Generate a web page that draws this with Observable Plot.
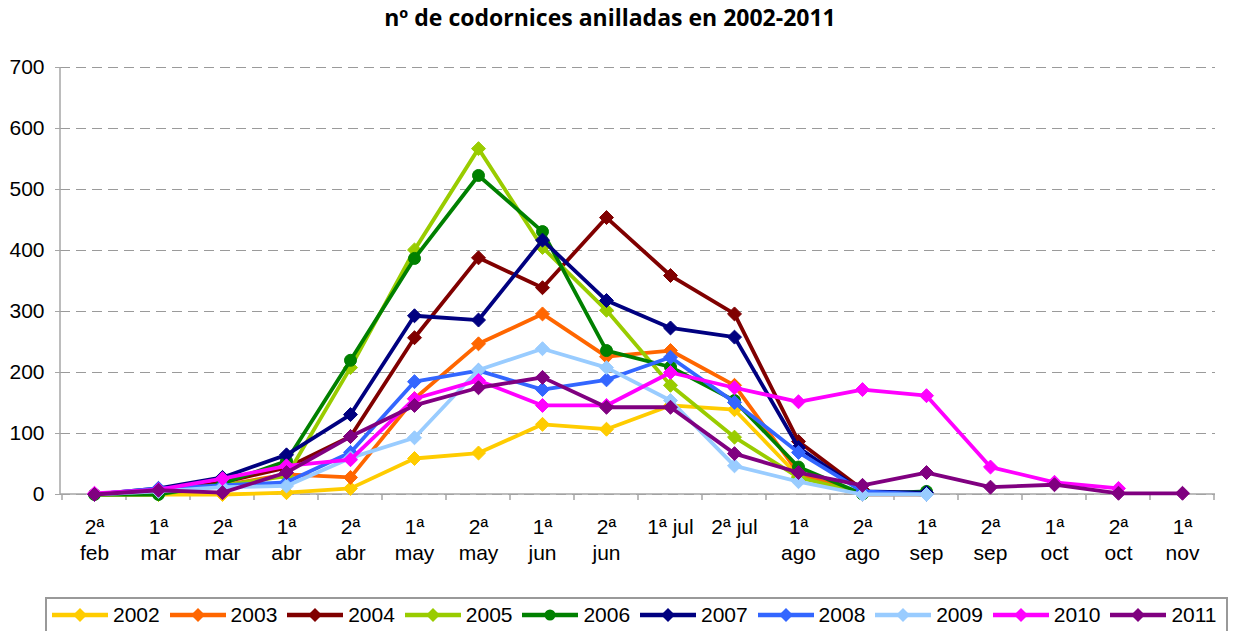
<!DOCTYPE html>
<html><head><meta charset="utf-8">
<script src="https://cdn.jsdelivr.net/npm/d3@7"></script>
<script src="https://cdn.jsdelivr.net/npm/@observablehq/plot@0.6"></script>
<style>
body{margin:0;background:#fff;width:1233px;height:631px;overflow:hidden;position:relative;}
#title{position:absolute;left:0;top:0;width:1220px;height:40px;line-height:35px;text-align:center;font-family:"Open Sans","DejaVu Sans",sans-serif;font-weight:bold;font-size:23px;color:#000;}
#chart{position:absolute;left:0;top:40px;}
#legend{position:absolute;left:45px;top:597px;width:1183px;height:36px;border:2px solid #999;box-sizing:border-box;font-family:"Liberation Sans",sans-serif;font-size:21px;color:#000;}
.item{position:absolute;top:0;height:32px;display:flex;align-items:center;}
.item span{margin-left:5px;}
</style></head>
<body>
<div id="title">nº de codornices anilladas en 2002-2011</div>
<div id="chart"></div>
<div id="legend"></div>
<script>
const categories = ["2ª\nfeb","1ª\nmar","2ª\nmar","1ª\nabr","2ª\nabr","1ª\nmay","2ª\nmay","1ª\njun","2ª\njun","1ª jul","2ª jul","1ª\nago","2ª\nago","1ª\nsep","2ª\nsep","1ª\noct","2ª\noct","1ª\nnov"];
const years = ["2002","2003","2004","2005","2006","2007","2008","2009","2010","2011"];
const colors = ["#FFCC00","#FF6600","#800000","#99CC00","#008000","#000080","#3366FF","#99CCFF","#FF00FF","#800080"];
const symbols = ["diamond2","diamond2","diamond2","diamond2","circle","diamond2","diamond2","diamond2","diamond2","diamond2"];
const yTicks = [0,100,200,300,400,500,600,700];

const s2002 = [0,0,0,3,10,59,68,115,107,146,139,30,0];
const s2003 = [0,5,15,33,28,157,247,296,226,236,179,35,0,0];
const s2004 = [0,5,20,44,95,257,388,339,454,359,296,87,8];
const s2005 = [0,0,15,30,208,401,567,405,302,179,94,28,2];
const s2006 = [0,0,18,55,220,387,523,431,236,209,154,45,1,5];
const s2007 = [0,10,28,65,131,293,286,417,318,273,258,77,5,3];
const s2008 = [0,10,15,20,69,185,203,172,188,225,151,69,5,0];
const s2009 = [0,5,12,14,60,93,204,239,208,154,47,21,0,0];
const s2010 = [2,8,26,47,57,157,187,146,146,200,175,152,172,162,45,20,10];
const s2011 = [0,7,3,36,95,146,175,192,143,143,67,36,15,36,12,16,2,2];
const series = [s2002,s2003,s2004,s2005,s2006,s2007,s2008,s2009,s2010,s2011];

const rowsByYear = years.map((yr,i)=>series[i].map((v,j)=>({year:yr, cat:categories[j], value:v})));

const font = '"Liberation Sans",sans-serif';

function axesFrame(index, scales, values, dims) {
  const {width, height, marginLeft, marginRight, marginTop, marginBottom} = dims;
  const g = d3.create("svg:g").attr("stroke","#a6a6a6").attr("stroke-width",1.5);
  const yb = height - marginBottom;
  g.append("line").attr("x1",marginLeft).attr("x2",marginLeft).attr("y1",marginTop).attr("y2",yb);
  g.append("line").attr("x1",marginLeft).attr("x2",width-marginRight).attr("y1",yb).attr("y2",yb);
  const step = scales.x(categories[1]) - scales.x(categories[0]);
  const bounds = categories.map(c=>scales.x(c)-step/2).concat([scales.x(categories[categories.length-1])+step/2]);
  for (const b of bounds) g.append("line").attr("x1",b).attr("x2",b).attr("y1",yb).attr("y2",yb+6);
  return g.node();
}

const marks = [
  Plot.gridY(yTicks, {stroke:"#9a9a9a", strokeOpacity:1, strokeDasharray:"10,6", strokeWidth:1.2}),
  Plot.axisY(yTicks, {tickSize:5, tickPadding:11, stroke:"#a6a6a6", fill:"#000", label:null}),
  Plot.axisX({tickSize:0, tickPadding:22, lineHeight:1.2, fill:"#000", label:null}),
  axesFrame
];
years.forEach((yr,i)=>{
  marks.push(Plot.line(rowsByYear[i], {x:"cat", y:"value", stroke:colors[i], strokeWidth:3.8}));
  marks.push(Plot.dot(rowsByYear[i], {x:"cat", y:"value", fill:colors[i], stroke:colors[i], symbol:()=>symbols[i], r: symbols[i]==="circle"?6:6.3, strokeWidth:1}));
});

const chart = Plot.plot({
  width:1233, height:550,
  marginTop:27, marginBottom:96, marginLeft:60, marginRight:18,
  style:{fontFamily:font, fontSize:"21px", color:"#000", background:"#fff", overflow:"visible"},
  x:{type:"point", domain:categories, padding:0.5, label:null},
  y:{domain:[0,700], label:null},
  symbol:{type:"identity"},
  marks
});
document.getElementById("chart").appendChild(chart);

const legend = document.getElementById("legend");
years.forEach((yr,i)=>{
  const d = document.createElement("div");
  d.className="item";
  d.style.left = (5 + i*117.6) + "px";
  const mk = symbols[i]==="circle"
    ? `<circle cx="28" cy="10" r="5.5" fill="${colors[i]}"/>`
    : `<polygon points="28,3 35,10 28,17 21,10" fill="${colors[i]}"/>`;
  d.innerHTML = `<svg width="56" height="20"><line x1="0" x2="56" y1="10" y2="10" stroke="${colors[i]}" stroke-width="4.5"/>${mk}</svg><span>${yr}</span>`;
  legend.appendChild(d);
});
</script>
</body></html>
